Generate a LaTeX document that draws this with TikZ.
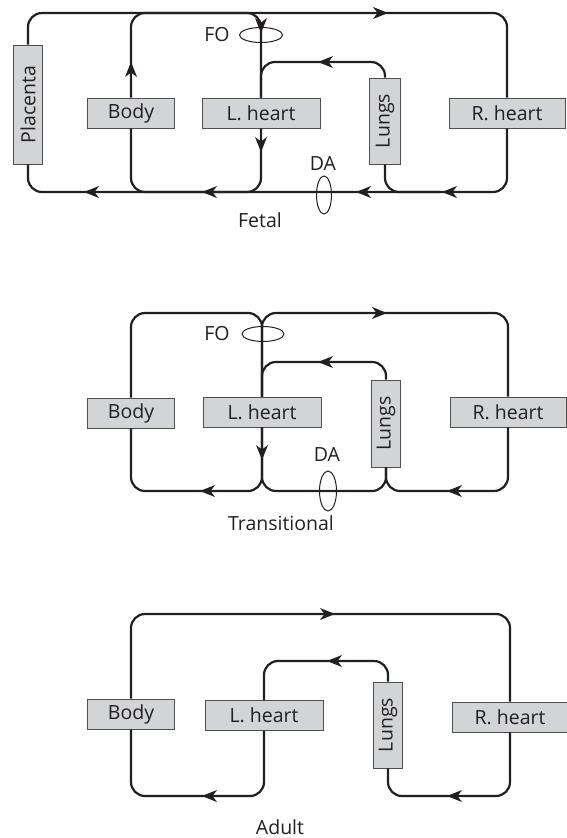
\documentclass[tikz,border=0pt]{standalone}
\usepackage{fontspec}
\setmainfont{Open Sans}
\usetikzlibrary{shapes.geometric}
\definecolor{boxfill}{HTML}{D3D4D6}
\definecolor{boxline}{HTML}{505050}
\definecolor{ink}{HTML}{231F20}
\begin{document}
\begin{tikzpicture}[x=1pt,y=-1pt,
  organ/.style={draw=boxline, line width=0.9pt, fill=boxfill, inner sep=0pt,
    font=\fontsize{19.5}{23}\selectfont, text=ink},
  flow/.style={draw=ink, line width=2.2pt, rounded corners=14pt},
  valve/.style={draw=ink, line width=1pt, ellipse, inner sep=0pt},
  lbl/.style={inner sep=0pt, font=\fontsize{19.5}{23}\selectfont, text=ink},
  headR/.pic={\fill[ink] (0,0) -- (-15,-6) -- (-10.5,0) -- (-15,6) -- cycle;},
  headL/.pic={\fill[ink] (0,0) -- (15,-6) -- (10.5,0) -- (15,6) -- cycle;},
  headD/.pic={\fill[ink] (0,0) -- (-6,-15) -- (0,-10.5) -- (6,-15) -- cycle;},
  headU/.pic={\fill[ink] (0,0) -- (-6,15) -- (0,10.5) -- (6,15) -- cycle;}]
\useasboundingbox (0,0) rectangle (566,838);

% ---------------- Fetal ----------------
\node[organ, minimum width=29pt, minimum height=119pt] (plac) at (28,104.5) {\rotatebox{90}{Placenta}};
\node[organ, minimum width=87pt, minimum height=30pt] (body1) at (131,113) {Body};
\node[organ, minimum width=118pt, minimum height=30pt] (lh1) at (261,113) {L. heart};
\node[organ, minimum width=31pt, minimum height=86pt] (lung1) at (385,121) {\rotatebox{90}{Lungs}};
\node[organ, minimum width=116pt, minimum height=30pt] (rh1) at (507,113) {R. heart};
\coordinate (lj1) at (440,192);

\draw[flow] (plac.north) -- (28,13) -- (507,13) -- (rh1.north);
\draw[flow] (rh1.south) -- (507,192) -- (28,192) -- (plac.south);
\draw[flow] (body1.north) -- (131,13) -- (261,13) -- (lh1.north);
\draw[flow] (lh1.south) -- (261,192) -- (131,192) -- (body1.south);
\draw[flow] (lh1.north) -- (261,62) -- (385,62) -- (lung1.north);
\draw[flow] (lung1.south) -- (385,192) -- (lj1);

\pic at (388,13) {headR};
\pic at (131,62) {headU};
\pic at (261,33) {headD};
\pic at (261,152) {headD};
\pic at (318,62) {headL};
\pic at (442,192) {headL};
\pic at (356,192) {headL};
\pic at (202,192) {headL};
\pic at (84,192) {headL};

\node[valve, minimum width=43pt, minimum height=15pt] (fo1) at (261,35) {};
\node[lbl] (fol1) at (217,35) {FO};
\node[valve, minimum width=15pt, minimum height=38pt] (da1) at (324,195) {};
\node[lbl] (dal1) at (323,164) {DA};
\node[lbl] (t1) at (260,220) {Fetal};

% ---------------- Transitional ----------------
\node[organ, minimum width=87pt, minimum height=30pt] (body2) at (131,413) {Body};
\node[organ, minimum width=118pt, minimum height=30pt] (lh2) at (262,412) {L. heart};
\node[organ, minimum width=29pt, minimum height=87pt] (lung2) at (386,423.5) {\rotatebox{90}{Lungs}};
\node[organ, minimum width=116pt, minimum height=30pt] (rh2) at (508,412) {R. heart};

\draw[flow] (body2.north) -- (131,313) -- (262,313) -- (lh2.north);
\draw[flow] (lh2.north) -- (262,313) -- (508,313) -- (rh2.north);
\draw[flow] (lh2.north) -- (262,362) -- (386,362) -- (lung2.north);
\draw[flow] (lh2.south) -- (262,491) -- (131,491) -- (body2.south);
\draw[flow] (lh2.south) -- (262,491) -- (386,491) -- (lung2.south);
\draw[flow] (rh2.south) -- (508,491) -- (386,491) -- (lung2.south);

\pic at (387,313) {headR};
\pic at (318,362) {headL};
\pic at (262,460) {headD};
\pic at (200,491) {headL};
\pic at (447,491) {headL};

\node[valve, minimum width=42pt, minimum height=15pt] (fo2) at (263,334) {};
\node[lbl] (fol2) at (217,334) {FO};
\node[valve, minimum width=17pt, minimum height=40pt] (da2) at (328,491) {};
\node[lbl] (dal2) at (327,455) {DA};
\node[lbl] (t2) at (281,523) {Transitional};

% ---------------- Adult ----------------
\node[organ, minimum width=87pt, minimum height=30pt] (body3) at (131,714) {Body};
\node[organ, minimum width=118pt, minimum height=30pt] (lh3) at (264,715.5) {L. heart};
\node[organ, minimum width=29pt, minimum height=86pt] (lung3) at (388,725) {\rotatebox{90}{Lungs}};
\node[organ, minimum width=116pt, minimum height=30pt] (rh3) at (510,717) {R. heart};

\draw[flow] (body3.north) -- (131,614) -- (510,614) -- (rh3.north);
\draw[flow] (rh3.south) -- (510,796) -- (388,796) -- (lung3.south);
\draw[flow] (lung3.north) -- (388,661) -- (264,661) -- (lh3.north);
\draw[flow] (lh3.south) -- (264,796) -- (131,796) -- (body3.south);

\pic at (335,614) {headR};
\pic at (327,661) {headL};
\pic at (202,796) {headL};
\pic at (447,796) {headL};

\node[lbl] (t3) at (280,827) {Adult};
\end{tikzpicture}
\end{document}
